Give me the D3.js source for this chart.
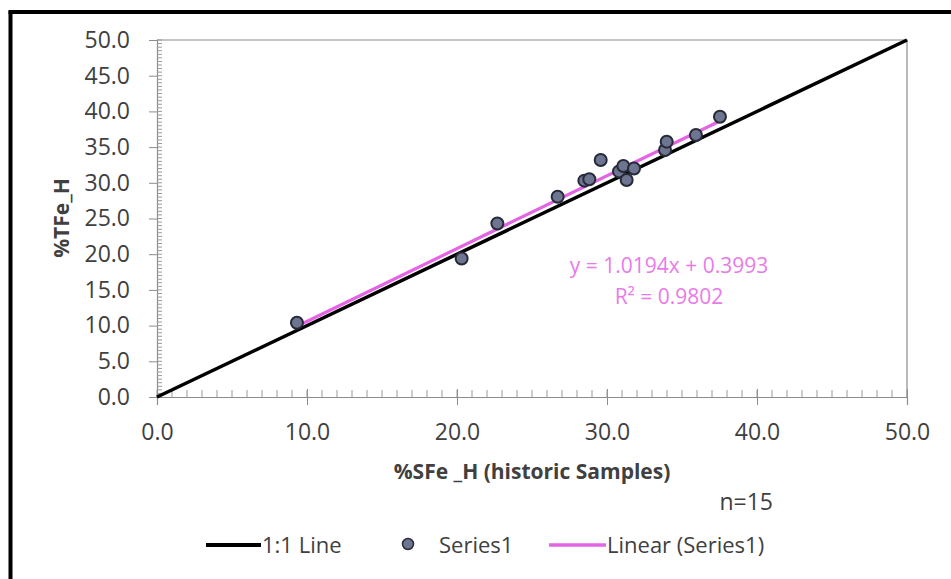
<!DOCTYPE html>
<html>
<head>
<meta charset="utf-8">
<script src="https://cdn.jsdelivr.net/npm/d3@7"></script>
<style>
  html, body { margin: 0; padding: 0; background: #fff; }
  svg { display: block; }
  text { font-family: "Open Sans", Lato, sans-serif; fill: #404040; }
</style>
</head>
<body>
<svg id="chart" width="951" height="579"></svg>
<script>
// Historic sample assays: soluble Fe (x) against total Fe (y), in %
const sfe = [9.33, 20.31, 22.69, 26.71, 28.49, 28.82, 29.58, 30.8, 31.09, 31.31, 31.8, 33.87, 33.98, 35.93, 37.53];
const tfe = [10.4, 19.4, 24.3, 28.05, 30.3, 30.5, 33.2, 31.6, 32.35, 30.4, 32.0, 34.6, 35.76, 36.7, 39.26];

// Least-squares fit reported on the chart
const slope = 1.0194;
const intercept = 0.3993;
const rSquared = 0.9802;

const yTicks = [0, 5, 10, 15, 20, 25, 30, 35, 40, 45, 50];
const xTicks = [0, 10, 20, 30, 40, 50];
const legendLabels = ["1:1 Line", "Series1", "Linear (Series1)"];
const sampleCount = "n=15";

const FONT = "'Open Sans', Lato, sans-serif";
const svg = d3.select("#chart");

const x = d3.scaleLinear().domain([0, 50]).range([157, 907]);
const y = d3.scaleLinear().domain([0, 50]).range([397, 40]);

// Outer frame (left and top edges)
svg.append("line").attr("x1", 10.5).attr("x2", 10.5).attr("y1", 11).attr("y2", 579)
  .attr("stroke", "#000").attr("stroke-width", 4);
svg.append("line").attr("x1", 8.5).attr("x2", 951).attr("y1", 12).attr("y2", 12)
  .attr("stroke", "#000").attr("stroke-width", 4);

// Plot area border (top and right)
svg.append("path")
  .attr("d", `M${x(0)},${y(50)}H${x(50)}V${y(0)}`)
  .attr("fill", "none").attr("stroke", "#8c8c8c").attr("stroke-width", 1.2);

// Y axis: major ticks outside, minor ticks inside
const yAxis = svg.append("g").attr("transform", `translate(${x(0)},0)`);
yAxis.call(d3.axisLeft(y).tickValues(yTicks).tickFormat(d3.format(".1f")).tickSize(8).tickPadding(19));
yAxis.select(".domain").attr("stroke", "#8c8c8c").attr("stroke-width", 1.2);
yAxis.selectAll(".tick line").attr("stroke", "#8c8c8c");
yAxis.selectAll("text").attr("font-size", 23).attr("fill", "#404040").style("font-family", FONT);
yAxis.append("g").selectAll("line")
  .data(d3.range(0, 50.01, 0.5))
  .join("line")
  .attr("x1", 0).attr("x2", 5)
  .attr("y1", d => y(d)).attr("y2", d => y(d))
  .attr("stroke", "#9a9a9a").attr("stroke-width", 1);

// X axis: major ticks crossing, minor ticks inside
const xAxis = svg.append("g").attr("transform", `translate(0,${y(0)})`);
xAxis.call(d3.axisBottom(x).tickValues(xTicks).tickFormat(d3.format(".1f")).tickSize(8).tickPadding(19));
xAxis.select(".domain").attr("stroke", "#8c8c8c").attr("stroke-width", 1.2);
xAxis.selectAll(".tick line").attr("stroke", "#8c8c8c").attr("y1", -8);
xAxis.selectAll("text").attr("font-size", 23).attr("fill", "#404040").style("font-family", FONT);
xAxis.append("g").selectAll("line")
  .data(d3.range(0, 50.01, 1))
  .join("line")
  .attr("x1", d => x(d)).attr("x2", d => x(d))
  .attr("y1", 0).attr("y2", -7)
  .attr("stroke", "#9a9a9a").attr("stroke-width", 1);

// 1:1 reference line
svg.append("line")
  .attr("x1", x(0)).attr("y1", y(0)).attr("x2", x(50)).attr("y2", y(50))
  .attr("stroke", "#000").attr("stroke-width", 3.5);

// Linear trend across the sample range
const xMin = d3.min(sfe), xMax = d3.max(sfe);
svg.append("line")
  .attr("x1", x(xMin)).attr("y1", y(slope * xMin + intercept))
  .attr("x2", x(xMax)).attr("y2", y(slope * xMax + intercept))
  .attr("stroke", "#e465e4").attr("stroke-width", 3.2);

// Sample points
svg.append("g").selectAll("circle")
  .data(sfe.map((v, i) => [v, tfe[i]]))
  .join("circle")
  .attr("cx", d => x(d[0])).attr("cy", d => y(d[1]))
  .attr("r", 6)
  .attr("fill", "#6d7590").attr("stroke", "#272b38").attr("stroke-width", 2);

// Trend equation
const eq = svg.append("g").attr("font-size", 21).style("font-family", FONT);
eq.append("text").attr("x", 669).attr("y", 273).attr("text-anchor", "middle")
  .style("fill", "#e87be8")
  .text(`y = ${slope.toFixed(4)}x + ${intercept.toFixed(4)}`);
eq.append("text").attr("x", 669).attr("y", 304).attr("text-anchor", "middle")
  .style("fill", "#e87be8")
  .text(`R² = ${rSquared.toFixed(4)}`);

// Axis titles
svg.append("text").attr("x", 532).attr("y", 479).attr("text-anchor", "middle")
  .attr("font-size", 21).attr("font-weight", "bold").style("fill", "#404040").style("font-family", FONT)
  .text("%SFe _H (historic Samples)");
svg.append("text")
  .attr("transform", `translate(69,218) rotate(-90)`)
  .attr("text-anchor", "middle")
  .attr("font-size", 21).attr("font-weight", "bold").style("fill", "#404040").style("font-family", FONT)
  .text("%TFe_H");

// Sample count
svg.append("text").attr("x", 773).attr("y", 510).attr("text-anchor", "end")
  .attr("font-size", 23).style("fill", "#404040").style("font-family", FONT).text(sampleCount);

// Legend
const lg = svg.append("g").attr("font-size", 22).style("font-family", FONT);
lg.append("line").attr("x1", 206).attr("x2", 261).attr("y1", 545).attr("y2", 545)
  .attr("stroke", "#000").attr("stroke-width", 4);
lg.append("text").attr("x", 262).attr("y", 553).style("fill", "#404040").text(legendLabels[0]);
lg.append("circle").attr("cx", 408).attr("cy", 544).attr("r", 5.5)
  .attr("fill", "#6d7590").attr("stroke", "#272b38").attr("stroke-width", 1.5);
lg.append("text").attr("x", 439).attr("y", 553).style("fill", "#404040").text(legendLabels[1]);
lg.append("line").attr("x1", 549).attr("x2", 606).attr("y1", 545).attr("y2", 545)
  .attr("stroke", "#e465e4").attr("stroke-width", 3.5);
lg.append("text").attr("x", 607).attr("y", 553).style("fill", "#404040").text(legendLabels[2]);
</script>
</body>
</html>
